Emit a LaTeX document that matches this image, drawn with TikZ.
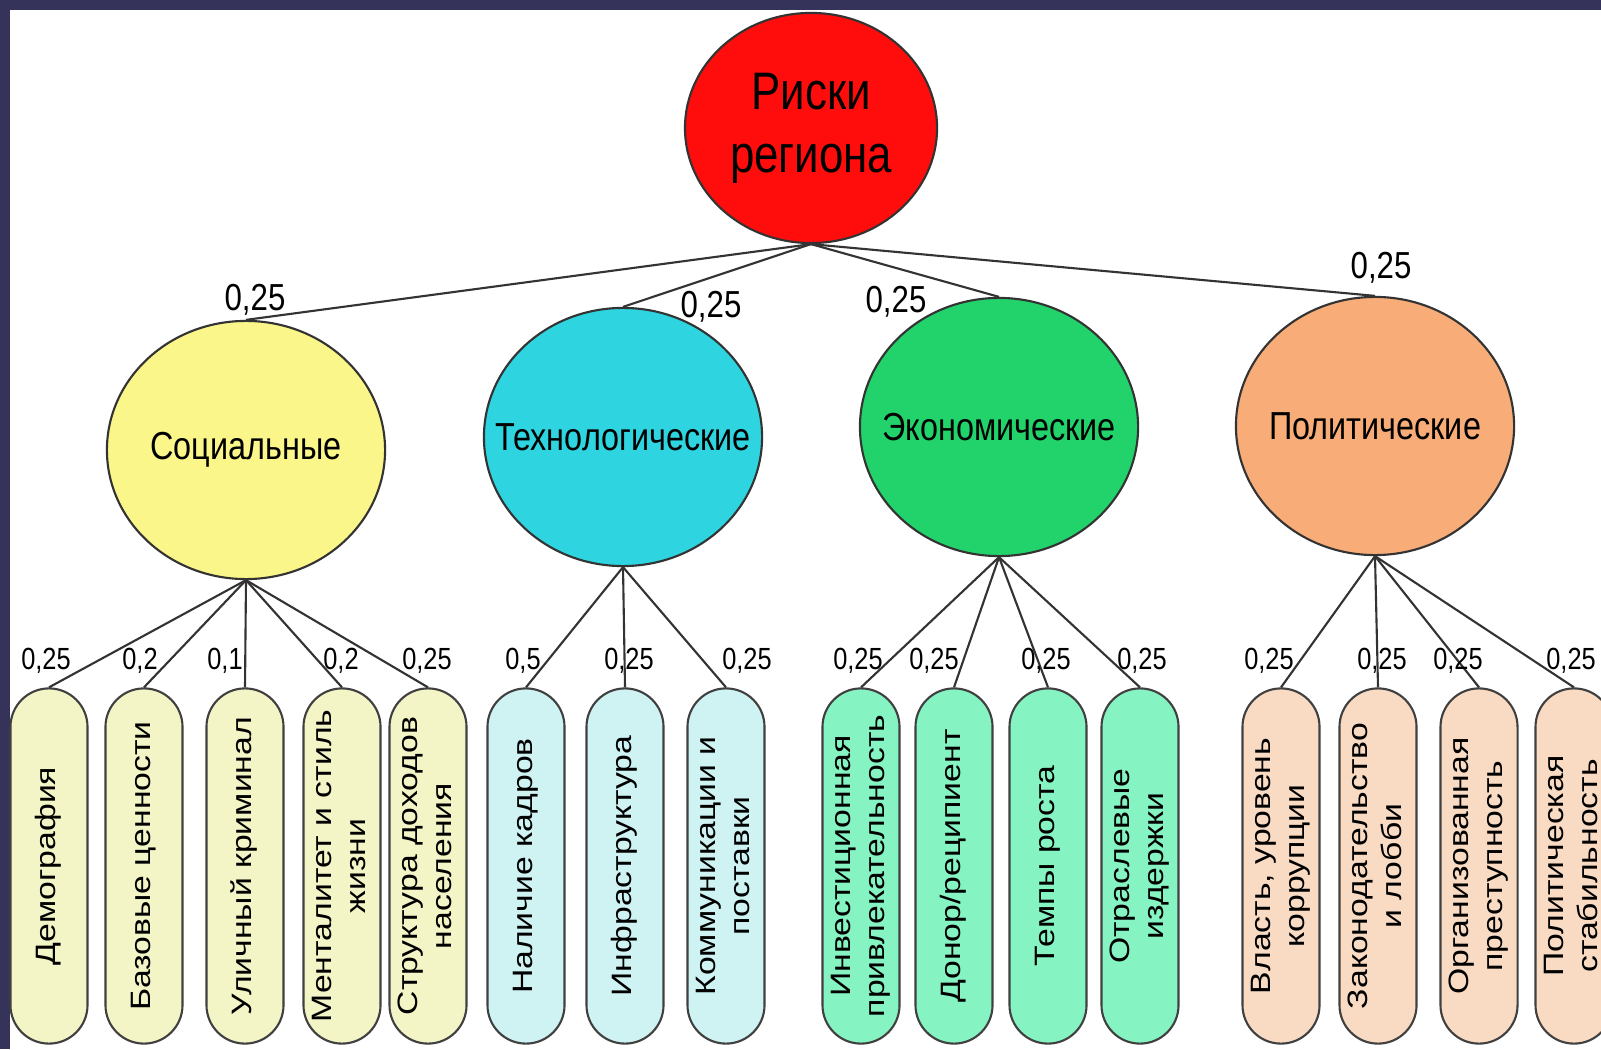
\documentclass[tikz,border=0pt]{standalone}
\usepackage{fontspec}
\setmainfont{Liberation Sans}[FakeStretch=0.83]
\newfontfamily\leaffont{Liberation Sans}
\usepackage{graphicx}
\usepackage{tikz}
\usetikzlibrary{shapes}

\definecolor{framenavy}{RGB}{53,51,90}
\definecolor{rootred}{RGB}{255,12,12}
\definecolor{socyellow}{RGB}{250,246,138}
\definecolor{techcyan}{RGB}{46,213,224}
\definecolor{econgreen}{RGB}{34,211,107}
\definecolor{polorange}{RGB}{248,172,120}
\definecolor{socleaf}{RGB}{243,245,198}
\definecolor{techleaf}{RGB}{207,243,243}
\definecolor{econleaf}{RGB}{134,243,195}
\definecolor{polleaf}{RGB}{249,219,196}

\newcommand{\grouptext}[1]{\makebox[0pt][c]{#1}}
\newcommand{\leaftext}[1]{\rotatebox{90}{\scalebox{1}[0.83]{\leaffont\fontsize{9.6}{11.6}\selectfont
	\begin{tabular}{@{}c@{}}#1\end{tabular}}}}

\begin{document}
\begin{tikzpicture}[x=0.01cm, y=-0.01cm]
    \tikzstyle{rootnode} = [draw=black!80, semithick, ellipse, fill=rootred,
	minimum width=2.52cm, minimum height=2.30cm, inner sep=0pt, align=center,
	font=\fontsize{15}{18}\selectfont]
    \tikzstyle{group} = [draw=black!80, semithick, ellipse, minimum width=2.78cm,
	minimum height=2.58cm, inner sep=0pt, font=\fontsize{11.1}{13}\selectfont]
    \tikzstyle{leaf} = [draw=black!75, semithick, rectangle, rounded corners=0.385cm,
	minimum width=0.77cm, minimum height=3.55cm, inner sep=0pt]
    \tikzstyle{weight} = [inner sep=0pt, font=\fontsize{10.7}{12}\selectfont]
    \tikzstyle{lweight} = [inner sep=0pt, font=\fontsize{8.7}{10}\selectfont]

	\useasboundingbox (0,0) rectangle (1601,1049);
	\fill[framenavy] (0,0) rectangle (1601,1049);
	\fill[white] (10,10) rectangle (1601,1049);
	\clip (0,0) rectangle (1601,1049);

	\begin{scope}
		\path[draw=black!80, semithick]
			node[rootnode] (R) at (811,128) {Риски\\региона}

			node[group, fill=socyellow] (S) at (246,450) {\grouptext{Социальные}}
			node[group, fill=techcyan] (T) at (623,437) {\grouptext{Технологические}}
			node[group, fill=econgreen] (E) at (999,427) {\grouptext{Экономические}}
			node[group, fill=polorange] (P) at (1375,426) {\grouptext{Политические}}

			node[leaf, fill=socleaf] (S1) at (49,866) {\leaftext{Демография}}
			node[leaf, fill=socleaf] (S2) at (144,866) {\leaftext{Базовые ценности}}
			node[leaf, fill=socleaf] (S3) at (245,866) {\leaftext{Уличный криминал}}
			node[leaf, fill=socleaf] (S4) at (342,866) {\leaftext{Менталитет и стиль\\жизни}}
			node[leaf, fill=socleaf] (S5) at (428,866) {\leaftext{Структура доходов\\населения}}

			node[leaf, fill=techleaf] (T1) at (526,866) {\leaftext{Наличие кадров}}
			node[leaf, fill=techleaf] (T2) at (625,866) {\leaftext{Инфраструктура}}
			node[leaf, fill=techleaf] (T3) at (726,866) {\leaftext{Коммуникации и\\поставки}}

			node[leaf, fill=econleaf] (E1) at (861,866) {\leaftext{Инвестиционная\\привлекательность}}
			node[leaf, fill=econleaf] (E2) at (954,866) {\leaftext{Донор/реципиент}}
			node[leaf, fill=econleaf] (E3) at (1048,866) {\leaftext{Темпы роста}}
			node[leaf, fill=econleaf] (E4) at (1140,866) {\leaftext{Отраслевые\\издержки}}

			node[leaf, fill=polleaf] (P1) at (1281,866) {\leaftext{Власть, уровень\\коррупции}}
			node[leaf, fill=polleaf] (P2) at (1378,866) {\leaftext{Законодательство\\и лобби}}
			node[leaf, fill=polleaf] (P3) at (1479,866) {\leaftext{Организованная\\преступность}}
			node[leaf, fill=polleaf] (P4) at (1574,866) {\leaftext{Политическая\\стабильность}}

			(R.south) edge (S.north)
			(R.south) edge (T.north)
			(R.south) edge (E.north)
			(R.south) edge (P.north)

			(S.south) edge (S1.north)
			(S.south) edge (S2.north)
			(S.south) edge (S3.north)
			(S.south) edge (S4.north)
			(S.south) edge (S5.north)

			(T.south) edge (T1.north)
			(T.south) edge (T2.north)
			(T.south) edge (T3.north)

			(E.south) edge (E1.north)
			(E.south) edge (E2.north)
			(E.south) edge (E3.north)
			(E.south) edge (E4.north)

			(P.south) edge (P1.north)
			(P.south) edge (P2.north)
			(P.south) edge (P3.north)
			(P.south) edge (P4.north)
		;

		\path
			node[weight] (wS) at (255,300) {0,25}
			node[weight] (wT) at (711,307) {0,25}
			node[weight] (wE) at (896,302) {0,25}
			node[weight] (wP) at (1381,268) {0,25}

			node[lweight] (wS1) at (46,661) {0,25}
			node[lweight] (wS2) at (140,661) {0,2}
			node[lweight] (wS3) at (225,661) {0,1}
			node[lweight] (wS4) at (341,661) {0,2}
			node[lweight] (wS5) at (427,661) {0,25}
			node[lweight] (wT1) at (523,661) {0,5}
			node[lweight] (wT2) at (629,661) {0,25}
			node[lweight] (wT3) at (747,661) {0,25}
			node[lweight] (wE1) at (858,661) {0,25}
			node[lweight] (wE2) at (934,661) {0,25}
			node[lweight] (wE3) at (1046,661) {0,25}
			node[lweight] (wE4) at (1142,661) {0,25}
			node[lweight] (wP1) at (1269,661) {0,25}
			node[lweight] (wP2) at (1382,661) {0,25}
			node[lweight] (wP3) at (1458,661) {0,25}
			node[lweight] (wP4) at (1571,661) {0,25}
		;
	\end{scope}
\end{tikzpicture}
\end{document}
